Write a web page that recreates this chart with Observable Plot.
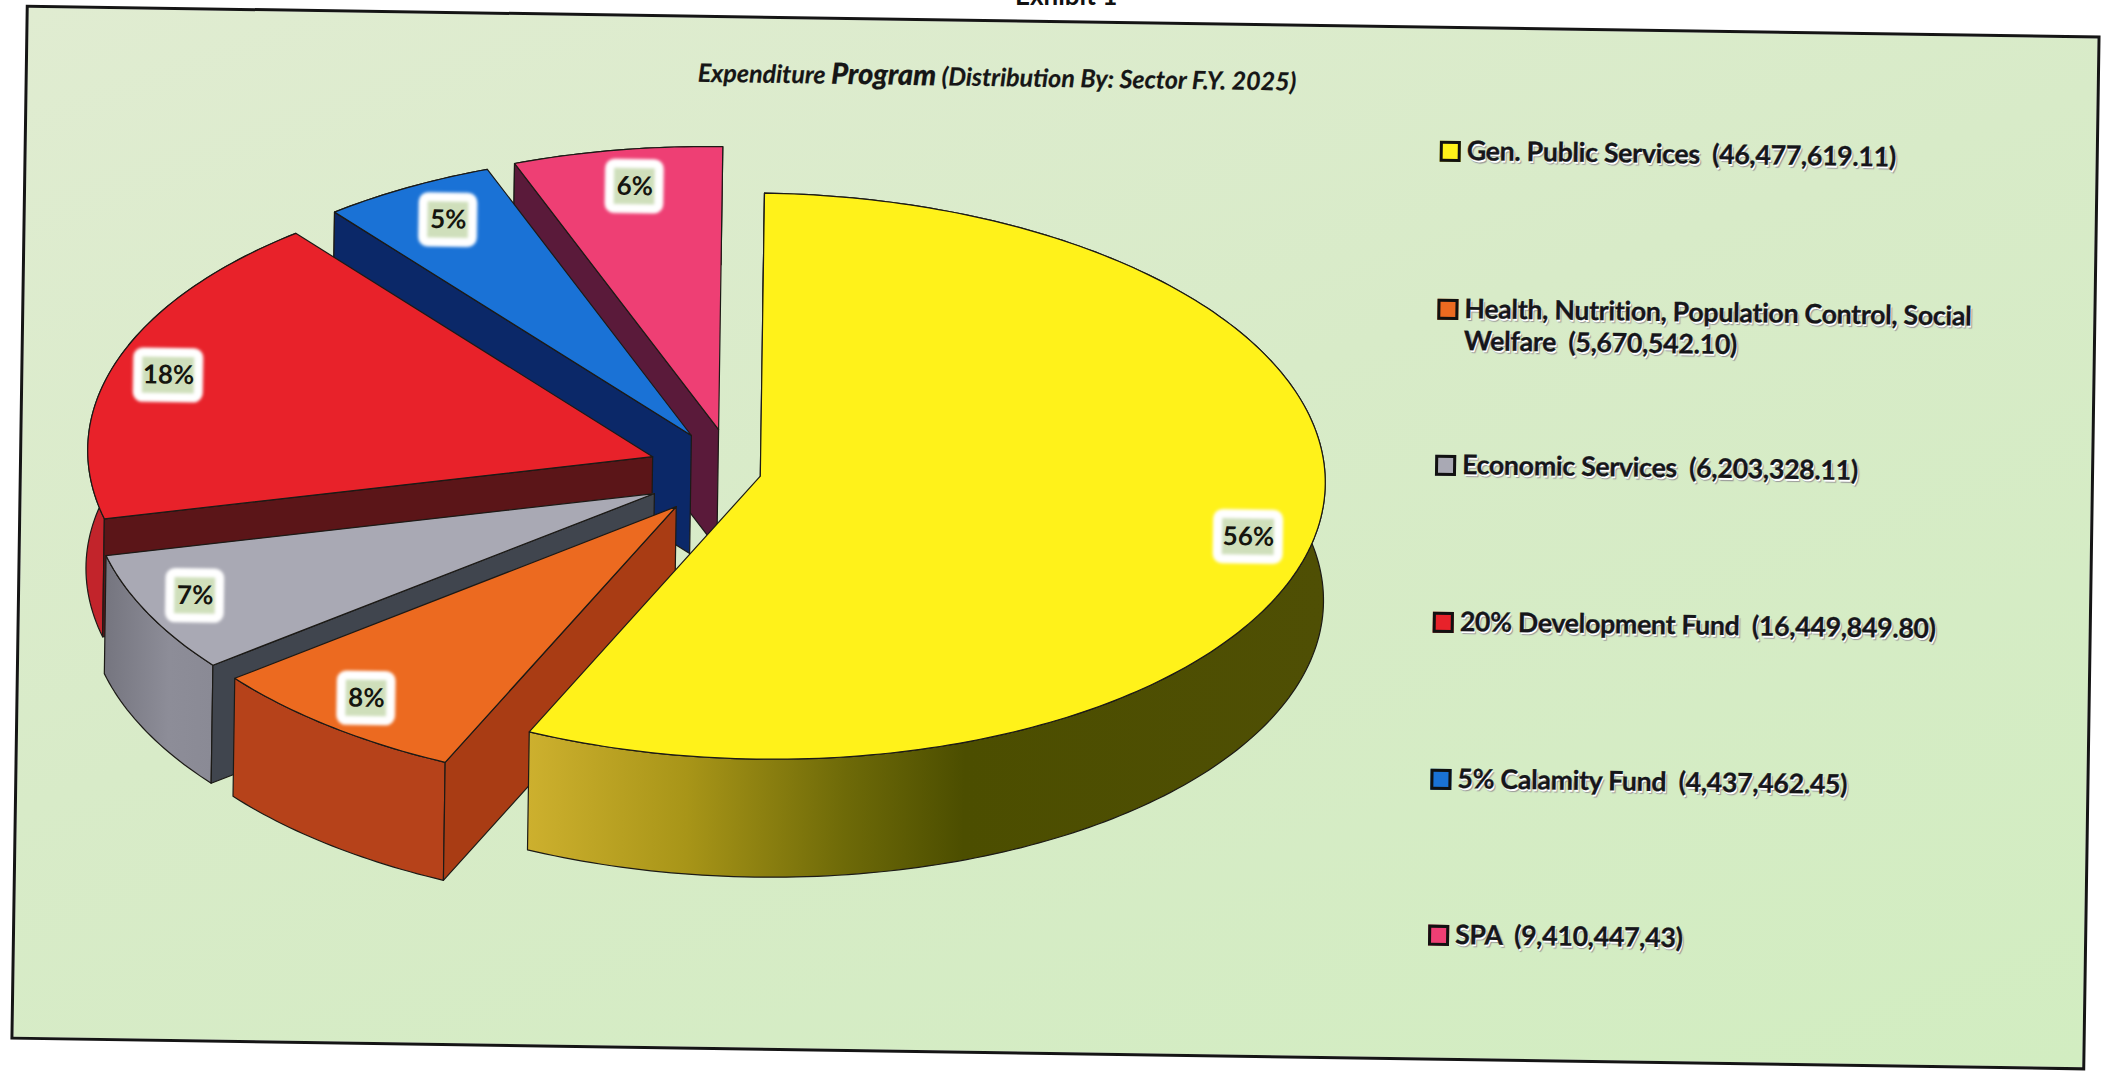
<!DOCTYPE html>
<html>
<head>
<meta charset="utf-8">
<title>Expenditure Program</title>
<script src="https://cdn.jsdelivr.net/npm/d3@7"></script>
<script src="https://cdn.jsdelivr.net/npm/@observablehq/plot@0.6"></script>
<style>
  html, body { margin: 0; padding: 0; background: #fff; width: 2105px; height: 1073px; overflow: hidden; }
  #exhibit { position: absolute; left: 1015px; top: -21px; font: 700 26px Lato, sans-serif; color: #111; }
  #sheet { position: absolute; left: 0; top: 0; width: 2105px; height: 1073px; transform: rotate(0.85deg); transform-origin: 1052.5px 536.5px; }
  #panel { position: absolute; left: 18px; top: 20px; width: 2069px; height: 1029px; border: 3.5px solid #151515;
           background: linear-gradient(160deg, #e0ecd1 0%, #d8ebc8 45%, #d2edc1 100%); }
  #sheet svg { position: absolute; left: 0; top: 0; background: transparent; }
  #heading { position: absolute; left: 691px; top: 58px; width: 590px; text-align: center; white-space: nowrap;
             font: italic 700 25px Lato, sans-serif; color: #161616; -webkit-text-stroke: 0.2px #161616; }
  #heading b { font-size: 29px; }
  .entry { position: absolute; left: 1434px; white-space: pre; font: 700 26.8px/32px Lato, sans-serif; color: #16161a;
           text-shadow: 1px 2px 0 #fff, 2px 3px 1px #9a9a9a; letter-spacing: -0.35px; -webkit-text-stroke: 0.3px #16161a; }
  .entry i { position: absolute; left: 0; top: 7px; width: 15px; height: 15px; border: 3px solid #111; }
  .entry span { display: block; margin-left: 27px; }
  .tag { filter: blur(1.4px); }
</style>
</head>
<body>
<div id="exhibit">Exhibit 1</div>
<div id="sheet"><div id="panel"></div></div>
<script>
// Sector names, printed amounts and the printed shares of the F.Y. 2025 programme
const sectors = ["Gen. Public Services", "Health, Nutrition, Population Control, Social Welfare", "Economic Services", "20% Development Fund", "5% Calamity Fund", "SPA"];
const amounts = ["46,477,619.11", "5,670,542.10", "6,203,328.11", "16,449,849.80", "4,437,462.45", "9,410,447,43"];
const shares = [56, 8, 7, 18, 5, 6];

// Slice colours: top face, outer rim, cut wall
const topColors = ["#fff21a", "#ec6a20", "#a9a9b4", "#e8222a", "#1a72d6", "#ee3f74"];
const rimColors = ["url(#rimYellow)", "#b6421a", "url(#rimGrey)", "#c2242b", "#0c2a6c", "#5a1a3a"];
const wallColors = ["#8a7a10", "#a93c14", "#40454e", "#5b1518", "#0b2868", "#5a1a3a"];

// Exploded offset of each slice, in pie radii
const shiftX = [0.099, -0.049, -0.088, -0.092, -0.024, 0.024];
const shiftY = [0.007, 0.119, 0.074, -0.056, -0.133, -0.155];
const depth = 0.417;      // rim height, in vertical radii
const tagRadius = 0.88;   // where the percent tag sits along the bisector
const tagNudgeX = [0.001, -0.026, -0.026, -0.022, 0.012, 0.010];
const tagNudgeY = [0.025, -0.018, -0.014, 0.010, 0.009, 0.010];
const rowTops = [128, 286, 442, 599, 756, 912];

const toRad = Math.PI / 180;
let running = 0;
const slices = shares.map((share, i) => {
  const a0 = running * 3.6, a1 = (running + share) * 3.6;
  running += share;
  return {i, share, a0, a1, mid: (a0 + a1) / 2, sx: shiftX[i], sy: shiftY[i]};
});

// The nearest part of the pie opens up slightly under the tilted view
const viewAngle = a => a + 2.15 * Math.exp(-(((a - 198) / 28) ** 2));

// Point on the slice's rim at angle a (degrees clockwise from 12 o'clock)
const at = (s, a, r = 1, dz = 0) => ({
  x: s.sx + r * Math.sin(viewAngle(a) * toRad),
  y: s.sy - r * Math.cos(viewAngle(a) * toRad) + dz
});
const arc = (s, from, to, dz = 0) => {
  const n = Math.max(2, Math.ceil(Math.abs(to - from)));
  return d3.range(n + 1).map(k => at(s, from + (to - from) * k / n, 1, dz));
};
const close = pts => [...pts, pts[0]];

const outline = {stroke: "#1c1a16", strokeWidth: 1.2, strokeLinejoin: "round"};
const polygon = (pts, fill) => Plot.line(close(pts), {x: "x", y: "y", fill, ...outline});

// Gradients used for the shaded rims
const gradient = (id, stops) => () => {
  const defs = d3.create("svg:defs");
  const g = defs.append("linearGradient").attr("id", id).attr("x1", 0).attr("x2", 1).attr("y1", 0).attr("y2", 0);
  stops.forEach(([o, c]) => g.append("stop").attr("offset", o).attr("stop-color", c));
  return defs.node();
};

// Slices paint back to front: far ones first, the large yellow slice last
const paintOrder = [5, 4, 3, 2, 1, 0];
const pieMarks = paintOrder.flatMap(i => {
  const s = slices[i];
  const top = arc(s, s.a0, s.a1);
  const rim = [...arc(s, s.a0, s.a1), ...arc(s, s.a1, s.a0, depth)];
  const apex = at(s, 0, 0), apexLow = at(s, 0, 0, depth);
  const wall = [apex, at(s, s.a0), at(s, s.a0, 1, depth), apexLow];
  return [
    polygon(rim, rimColors[i]),
    polygon(wall, wallColors[i]),
    polygon([apex, ...top], topColors[i])
  ];
});

// Percent tags, placed along each slice's bisector
const tags = slices.map(s => {
  const m = s.mid * toRad;
  const x = s.sx + tagRadius * Math.sin(m) + tagNudgeX[s.i];
  const y = s.sy - tagRadius * Math.cos(m) + tagNudgeY[s.i];
  const wide = s.share >= 10 ? 0.054 : 0.044;
  return {label: s.share + "%", x, y, x1: x - wide, x2: x + wide, y1: y - 0.080, y2: y + 0.080};
});

const chart = Plot.plot({
  width: 2105,
  height: 1073,
  margin: 0,
  style: {background: "transparent", overflow: "visible"},
  x: {domain: [-1, 1], range: [138, 1268], axis: null},
  y: {domain: [-1, 1], range: [195, 761], axis: null},
  marks: [
    gradient("rimYellow", [[0, "#cdb02e"], [0.2, "#a89518"], [0.4, "#6e6a08"], [0.55, "#4c4e00"], [1, "#4f4f04"]]),
    gradient("rimGrey", [[0, "#75757f"], [0.6, "#8d8d98"], [1, "#8a8a95"]]),
    ...pieMarks,
    Plot.rect(tags, {x1: "x1", x2: "x2", y1: "y1", y2: "y2", fill: "#cfdfbb", stroke: "#fff", strokeWidth: 9, rx: 5, className: "tag"}),
    Plot.text(tags, {x: "x", y: "y", text: "label", fontSize: 26, fontWeight: 700, fontFamily: "Lato, sans-serif", fill: "#15150f"})
  ]
});

const sheet = document.getElementById("sheet");
sheet.appendChild(chart);

const heading = document.createElement("div");
heading.id = "heading";
heading.innerHTML = "Expenditure <b>Program</b> (Distribution By: Sector F.Y. 2025)";
sheet.appendChild(heading);

// Legend rows to the right of the pie
sectors.forEach((name, i) => {
  const row = document.createElement("div");
  row.className = "entry";
  row.style.top = rowTops[i] + "px";
  const key = document.createElement("i");
  key.style.background = topColors[i];
  const text = document.createElement("span");
  text.textContent = i === 1
    ? "Health, Nutrition, Population Control, Social\nWelfare  (" + amounts[i] + ")"
    : name + "  (" + amounts[i] + ")";
  row.append(key, text);
  sheet.appendChild(row);
});
</script>
</body>
</html>
